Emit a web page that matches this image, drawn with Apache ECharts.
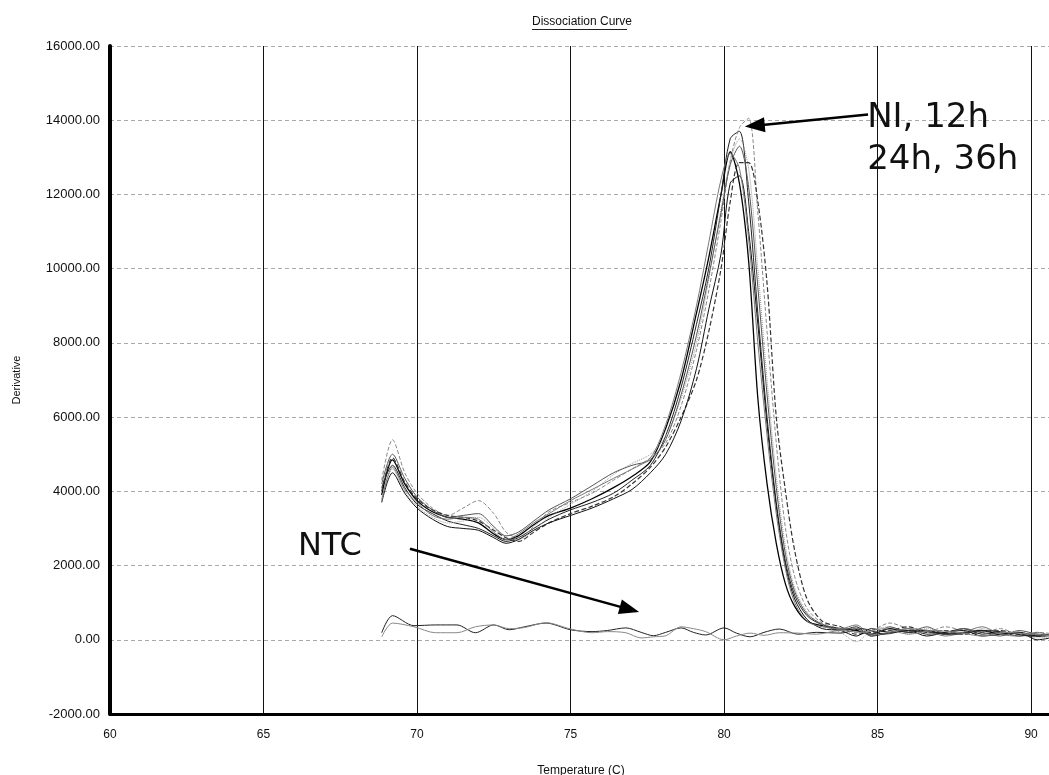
<!DOCTYPE html>
<html>
<head>
<meta charset="utf-8">
<script src="https://cdn.jsdelivr.net/npm/echarts@6/dist/echarts.min.js"></script>
<style>
  html, body { margin: 0; padding: 0; background: #fff; }
  #main { width: 1049px; height: 775px; }
</style>
</head>
<body>
<div id="main"></div>
<script>
// temperatures of the sample curves (C)
const temps = [68.85, 69.2, 69.6, 70.0, 70.5, 71.0, 71.5, 72.0, 72.5, 72.9, 73.3, 73.8, 74.3, 75.0, 75.7, 76.4, 77.0, 77.6,
  78.1, 78.6, 79.1, 79.5, 79.9, 80.2, 80.5, 80.8, 81.1, 81.4, 81.7, 82.0, 82.3, 82.7, 83.2, 83.8, 84.3, 84.8, 85.4, 86.0,
  86.6, 87.2, 87.8, 88.4, 89.0, 89.6, 90.2, 90.8];

// derivative values, one array per sample (NI, 12h, 24h, 36h replicates)
const curveA = [3900, 4850, 4200, 3750, 3450, 3300, 3250, 3150, 2850, 2700, 2800, 3100, 3350, 3550, 3800, 4100, 4400, 4800,
  5700, 7000, 8800, 10300, 12000, 13150, 12300, 10200, 6500, 4200, 2600, 1500, 900, 500, 380, 300, 250, 150, 300, 200,
  250, 150, 200, 250, 150, 200, 100, 120];
const curveB = [4100, 4700, 4100, 3650, 3400, 3200, 3100, 3000, 2800, 2650, 2750, 3000, 3250, 3500, 3700, 3950, 4300, 4700,
  5500, 6800, 8500, 10000, 12000, 13500, 13700, 11800, 8800, 6000, 3700, 2100, 1200, 650, 400, 250, 350, 100, 200, 300,
  150, 200, 300, 150, 200, 100, 150, 80];
const curveC = [4300, 5390, 4500, 3950, 3550, 3350, 3550, 3750, 3400, 2900, 2750, 3050, 3450, 3700, 3950, 4300, 4600, 4900,
  5300, 6300, 7800, 9400, 11300, 12900, 13800, 14050, 11500, 8300, 5300, 3000, 1700, 850, 450, 300, 200, 250, 450, 300,
  200, 350, 250, 200, 300, 150, 200, 150];
const curveD = [3800, 4600, 4000, 3600, 3300, 3150, 3200, 3300, 3000, 2750, 2700, 2950, 3300, 3650, 4000, 4450, 4750, 5000,
  5500, 6500, 8000, 9700, 11600, 12900, 13500, 12700, 10000, 7000, 4400, 2500, 1400, 750, 400, 200, -50, 250, 350, 150,
  300, 200, 150, 300, 200, 150, 50, 100];
const curveE = [4000, 4900, 4250, 3800, 3500, 3350, 3300, 3200, 2950, 2750, 2650, 2900, 3150, 3400, 3600, 3850, 4200, 4650,
  5200, 6000, 7000, 8300, 10000, 11800, 12860, 12860, 11800, 9600, 6000, 4000, 2400, 1100, 500, 350, 150, 200, 250, 350,
  200, 250, 150, 200, 250, 150, 100, 150];
const curveF = [3700, 4500, 3950, 3550, 3250, 3050, 3000, 2950, 2750, 2600, 2700, 2950, 3150, 3350, 3550, 3800, 4050, 4500,
  5000, 5900, 7300, 8900, 10400, 12300, 12500, 11000, 8500, 5800, 3600, 2000, 1100, 550, 300, 250, 100, 300, 200, 250,
  100, 200, 250, 100, 150, 200, 0, 80];
const curveG = [4200, 5000, 4350, 3850, 3500, 3300, 3350, 3400, 3050, 2800, 2900, 3200, 3500, 3800, 4150, 4500, 4700, 4850,
  5400, 6600, 8200, 9800, 11500, 12800, 13300, 12200, 9500, 6600, 4100, 2300, 1300, 700, 420, 280, 300, 100, 350, 200,
  350, 150, 300, 200, 100, 250, 150, 100];
const curveH = [3750, 4650, 4050, 3700, 3350, 3250, 3300, 3250, 2900, 2700, 2850, 3150, 3400, 3750, 4050, 4350, 4600, 4900,
  5800, 7200, 9000, 10700, 12400, 13100, 12700, 10800, 8000, 5500, 3400, 1900, 1000, 500, 350, 300, 400, 150, 200, 300,
  250, 100, 200, 350, 150, 100, 200, 50];

// no template controls
const ntcTemps = [68.85, 69.2, 69.9, 70.6, 71.3, 71.9, 72.5, 73.0, 73.5, 74.2, 75.0, 75.7, 76.2, 76.8, 77.3, 77.7, 78.1,
  78.6, 79.0, 79.4, 80.0, 80.4, 80.85, 81.3, 81.8, 82.4, 83.0, 83.8, 84.5, 85.2, 86.0, 86.8, 87.6, 88.4, 89.2, 90.0, 90.8];
const ntc1 = [190, 650, 380, 400, 400, 190, 400, 270, 350, 450, 270, 220, 250, 320, 200, 110, 200, 320, 200, 130, 320, 180,
  80, 200, 290, 150, 200, 180, 300, 150, 250, 200, 150, 250, 200, 100, 150];
const ntc2 = [80, 450, 350, 190, 190, 350, 400, 300, 330, 460, 290, 190, 220, 190, 50, 80, 110, 350, 300, 220, 0, 100, 180,
  120, 190, 180, 150, 250, 200, 300, 150, 250, 200, 100, 200, 150, 100];

// annotations: [temp, derivative]
const ntcArrow = [[69.77, 2453], [76.92, 820]];
const niArrow = [[84.69, 14151], [81.0, 13854]];
const ntcLabelAt = [66.12, 2500];
const niLabelAt = [84.66, 13480];

const xTicks = { min: 60, max: 90.68, step: 5 };
const yTicks = { min: -2000, max: 16000, step: 2000 };

function zip(xs, ys) {
  return xs.map((x, i) => [x, ys[i]]);
}

const sampleStyles = [
  { d: curveA, color: '#000', type: 'solid', width: 1.3 },
  { d: curveB, color: '#222', type: 'solid', width: 1 },
  { d: curveC, color: '#888', type: 'dashed', width: 1 },
  { d: curveD, color: '#999', type: 'dotted', width: 1 },
  { d: curveE, color: '#333', type: 'dashed', width: 1.2 },
  { d: curveF, color: '#111', type: 'solid', width: 1 },
  { d: curveG, color: '#555', type: 'solid', width: 1 },
  { d: curveH, color: '#777', type: 'solid', width: 1 }
];

const seriesList = sampleStyles.map((s, i) => ({
  name: 'sample' + i,
  type: 'line',
  data: zip(temps, s.d),
  showSymbol: false,
  smooth: 0.3,
  lineStyle: { color: s.color, type: s.type, width: s.width }
}));

seriesList.push({
  name: 'ntc1', type: 'line', data: zip(ntcTemps, ntc1), showSymbol: false, smooth: 0.3,
  lineStyle: { color: '#222', width: 1 }
});
seriesList.push({
  name: 'ntc2', type: 'line', data: zip(ntcTemps, ntc2), showSymbol: false, smooth: 0.3,
  lineStyle: { color: '#888', width: 1 }
});

// arrows and texts
seriesList.push({
  name: 'notes',
  type: 'line',
  data: [],
  silent: true,
  markLine: {
    silent: true,
    animation: false,
    symbol: ['none', 'triangle'],
    symbolSize: [15, 20],
    label: { show: false },
    lineStyle: { color: '#000', width: 2.5, type: 'solid' },
    data: [
      [{ coord: ntcArrow[0] }, { coord: ntcArrow[1] }],
      [{ coord: niArrow[0] }, { coord: niArrow[1] }]
    ]
  },
  markPoint: {
    silent: true,
    animation: false,
    symbol: 'circle',
    symbolSize: 0,
    label: {
      show: true,
      position: [0, 0],
      align: 'left',
      verticalAlign: 'middle',
      fontFamily: 'DejaVu Sans',
      color: '#111',
      formatter: p => p.name
    },
    data: [
      { name: 'NTC', coord: ntcLabelAt, label: { fontSize: 32 } },
      { name: 'NI, 12h\n24h, 36h', coord: niLabelAt, label: { fontSize: 34, lineHeight: 42 } }
    ]
  }
});

const chart = echarts.init(document.getElementById('main'));
chart.setOption({
  animation: false,
  backgroundColor: '#fff',
  textStyle: { fontFamily: 'Liberation Sans' },
  grid: { left: 110, right: -3, top: 46, bottom: 61, outerBoundsMode: 'none', containLabel: false },
  graphic: [
    {
      type: 'text', left: 532, top: 16,
      style: { text: 'Dissociation Curve', fontSize: 12, fontFamily: 'Liberation Sans', fill: '#111' }
    },
    {
      type: 'line', shape: { x1: 532, y1: 29.5, x2: 627, y2: 29.5 },
      style: { stroke: '#222', lineWidth: 1 }
    }
  ],
  xAxis: {
    type: 'value',
    min: xTicks.min,
    max: xTicks.max,
    interval: xTicks.step,
    name: 'Temperature (C)',
    nameLocation: 'middle',
    nameGap: 51,
    nameTextStyle: { fontSize: 12, color: '#111' },
    axisLine: { onZero: false, lineStyle: { color: '#000', width: 3 } },
    axisTick: { show: false },
    axisLabel: {
      color: '#111', fontSize: 12, margin: 15,
      formatter: v => (v % 5 === 0 ? String(v) : '')
    },
    splitLine: { show: true, lineStyle: { color: '#111', width: 1, type: 'solid' } }
  },
  yAxis: {
    type: 'value',
    min: yTicks.min,
    max: yTicks.max,
    interval: yTicks.step,
    name: 'Derivative',
    nameLocation: 'middle',
    nameGap: 88,
    nameTextStyle: { fontSize: 11, color: '#111' },
    axisLine: { show: true, onZero: false, lineStyle: { color: '#000', width: 4 } },
    axisTick: { show: false },
    axisLabel: {
      color: '#111', fontSize: 13, margin: 10,
      formatter: v => v.toFixed(2)
    },
    splitLine: { show: true, lineStyle: { color: '#aaa', width: 1, type: [4, 3] } }
  },
  series: seriesList
});
</script>
</body>
</html>
